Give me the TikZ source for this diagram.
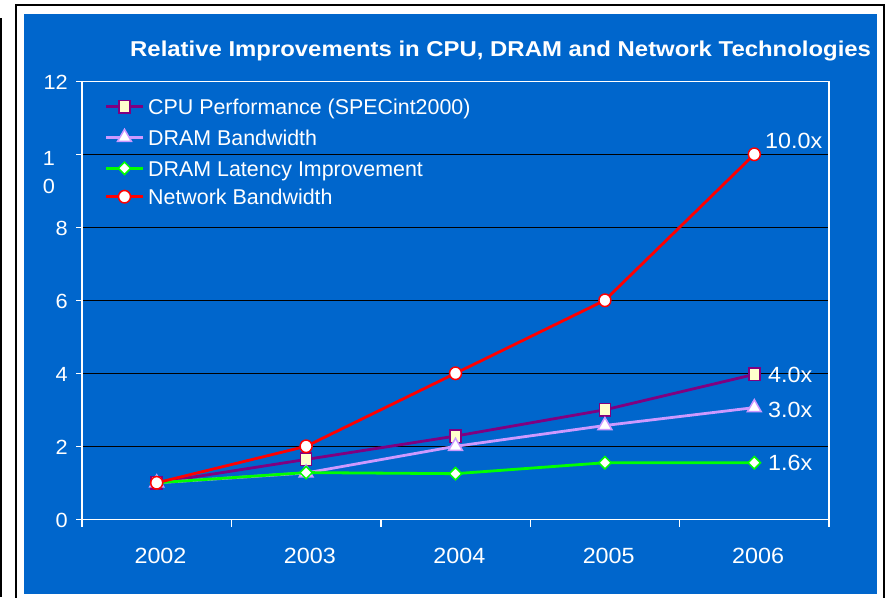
\documentclass[tikz,border=0pt]{standalone}
\usepackage{fontspec}
\usepackage{graphicx}
\setmainfont{Liberation Sans}
\usetikzlibrary{shapes.geometric}

\definecolor{slideblue}{RGB}{0,102,204}
\definecolor{cpupurple}{RGB}{128,0,128}
\definecolor{cream}{RGB}{255,255,204}
\definecolor{lavender}{RGB}{204,153,255}
\definecolor{latgreen}{RGB}{0,255,0}
\definecolor{netred}{RGB}{255,0,0}

\newcommand\hwide[1]{\scalebox{1.06}[1]{#1}}

\begin{document}
\begin{tikzpicture}[x=1pt,y=-1pt,
  txt/.style={text=white,inner sep=0pt,font=\fontsize{22}{26}\selectfont},
  ylab/.style={txt,anchor=base east,font=\fontsize{20.5}{24}\selectfont},
  leg/.style={txt,anchor=base west,font=\fontsize{21.4}{25}\selectfont},
  grid line/.style={black,line width=0.9pt},
  axis line/.style={white,line width=1.4pt},
  series/.style={line width=2.8pt,line join=round,line cap=round},
  cpuline/.style={series,cpupurple},
  bwline/.style={series,lavender},
  latline/.style={series,latgreen},
  netline/.style={series,netred},
  sqmark/.style={rectangle,draw=cpupurple,fill=cream,line width=1.5pt,minimum width=11pt,minimum height=12.5pt,inner sep=0pt},
  trimark/.style={regular polygon,regular polygon sides=3,draw=lavender,fill=white,line width=1.5pt,minimum size=16pt,inner sep=0pt},
  dimark/.style={diamond,draw=latgreen,fill=white,line width=1.5pt,minimum size=13pt,inner sep=0pt},
  cimark/.style={ellipse,draw=netred,fill=white,line width=1.5pt,minimum width=12pt,minimum height=12.5pt,inner sep=0pt},
]
\useasboundingbox (0,0) rectangle (886,597);
\fill[white] (0,0) rectangle (886,597);

% page edge and slide frame
\draw[black,line width=1.5pt] (0.75,18) -- (0.75,597);
\draw[black,line width=2.2pt] (16,5) rectangle (884,610);
\fill[slideblue] (24,14) rectangle (877,594);

% title
\node[txt,anchor=base west,font=\fontsize{21.5}{25}\selectfont\bfseries] (title) at (130,56.5)
  {\scalebox{1.112}[1]{Relative Improvements in CPU, DRAM and Network Technologies}};

% horizontal grid lines
\foreach \v in {2,4,6,8,10}
  \draw[grid line] (82,{519.3-36.5*\v}) -- (829,{519.3-36.5*\v});

% plot frame and axes
\draw[axis line] (82,519.3) -- (82,81.3) -- (829,81.3) -- (829,519.3) -- cycle;
\foreach \v in {0,2,4,6,8,10,12}
  \draw[axis line] (76,{519.3-36.5*\v}) -- (82,{519.3-36.5*\v});
\foreach \i in {0,...,5}
  \draw[axis line] ({82+149.4*\i},519.3) -- ({82+149.4*\i},527);

% y tick labels
\foreach \v/\n in {0/y0,2/y2,4/y4,6/y6,8/y8,12/y12}
  \node[ylab] (\n) at (68,{519.3-36.5*\v+8.5}) {\hwide{\v}};
\node[txt,anchor=base,font=\fontsize{20.5}{24}\selectfont] (y10a) at (49,165) {\hwide{1}};
\node[txt,anchor=base,font=\fontsize{20.5}{24}\selectfont] (y10b) at (49,193.3) {\hwide{0}};

% x category labels
\foreach \yr [count=\i] in {2002,2003,2004,2005,2006}
  \node[txt,anchor=base] (x\i) at ({160.5+149.4*(\i-1)},563) {\hwide{\yr}};

% data points
\foreach \v [count=\i] in {1,1.64,2.28,3.0,3.97}
  \coordinate (cpu\i) at ({156.7+149.4*(\i-1)},{519.3-36.5*\v});
\foreach \v [count=\i] in {1,1.27,2.0,2.57,3.06}
  \coordinate (bw\i) at ({156.7+149.4*(\i-1)},{519.3-36.5*\v});
\foreach \v [count=\i] in {1,1.28,1.25,1.55,1.55}
  \coordinate (lat\i) at ({156.7+149.4*(\i-1)},{519.3-36.5*\v});
\foreach \v [count=\i] in {1,2,4,6,10}
  \coordinate (net\i) at ({156.7+149.4*(\i-1)},{519.3-36.5*\v});

% series: CPU performance
\draw[cpuline] (cpu1) -- (cpu2) -- (cpu3) -- (cpu4) -- (cpu5);
\foreach \i in {1,...,5} \node[sqmark] (cpum\i) at (cpu\i) {};
% series: DRAM bandwidth
\draw[bwline] (bw1) -- (bw2) -- (bw3) -- (bw4) -- (bw5);
\foreach \i in {1,...,5} \node[trimark] (bwm\i) at (bw\i) {};
% series: DRAM latency
\draw[latline] (lat1) -- (lat2) -- (lat3) -- (lat4) -- (lat5);
\foreach \i in {1,...,5} \node[dimark] (latm\i) at (lat\i) {};
% series: network bandwidth
\draw[netline] (net1) -- (net2) -- (net3) -- (net4) -- (net5);
\foreach \i in {1,...,5} \node[cimark] (netm\i) at (net\i) {};

% end-point value labels
\node[txt,anchor=base west] (lnet) at (765,148) {\hwide{10.0x}};
\node[txt,anchor=base west] (lcpu) at (768,382.8) {\hwide{4.0x}};
\node[txt,anchor=base west] (lbw) at (768,417.8) {\hwide{3.0x}};
\node[txt,anchor=base west] (llat) at (768,470.8) {\hwide{1.6x}};

% legend
\coordinate (lga) at (106,106.7); \coordinate (lgb) at (143,106.7);
\coordinate (lha) at (106,137.3); \coordinate (lhb) at (143,137.3);
\coordinate (lia) at (106,168.3); \coordinate (lib) at (143,168.3);
\coordinate (lja) at (106,196.7); \coordinate (ljb) at (143,196.7);
\draw[cpuline,line cap=butt] (lga) -- (lgb);
\node[sqmark] (lgm) at (124.5,106.7) {};
\draw[bwline,line cap=butt] (lha) -- (lhb);
\node[trimark] (lhm) at (124.5,137.3) {};
\draw[latline,line cap=butt] (lia) -- (lib);
\node[dimark] (lim) at (124.5,168.3) {};
\draw[netline,line cap=butt] (lja) -- (ljb);
\node[cimark] (ljm) at (124.5,196.7) {};
\node[leg] (lgt) at (148,114.3) {CPU Performance (SPECint2000)};
\node[leg] (lht) at (148,145) {DRAM Bandwidth};
\node[leg] (lit) at (148,176) {DRAM Latency Improvement};
\node[leg] (ljt) at (148,204.3) {Network Bandwidth};
\end{tikzpicture}
\end{document}
